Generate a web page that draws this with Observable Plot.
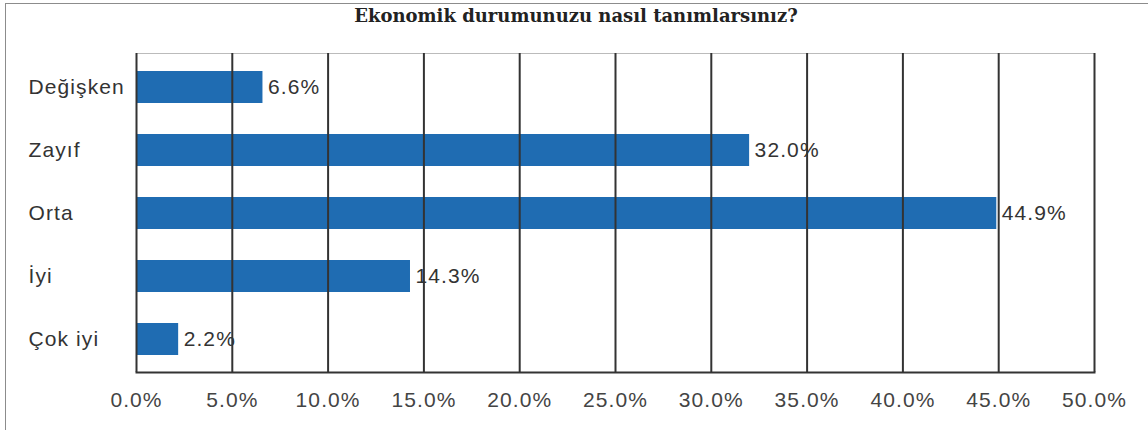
<!DOCTYPE html>
<html>
<head>
<meta charset="utf-8">
<script src="https://cdn.jsdelivr.net/npm/d3@7"></script>
<script src="https://cdn.jsdelivr.net/npm/@observablehq/plot@0.6"></script>
<style>
  html, body { margin: 0; padding: 0; background: #fff; }
  #wrap { position: relative; width: 1148px; height: 430px; overflow: hidden; }
  #border { position: absolute; left: 5px; top: 3px; width: 1300px; height: 600px; border: 1px solid #8c8c8c; box-sizing: border-box; }
  #title { position: absolute; left: 0; width: 1152px; top: 5px; text-align: center;
    font-family: "DejaVu Serif", serif; font-weight: bold; font-size: 18px; color: #222; line-height: 22px; }
  #chart { position: absolute; left: 0; top: 0; }
  #chart svg text { letter-spacing: 1.1px; }
</style>
</head>
<body>
<div id="wrap">
  <div id="border"></div>
  <div id="chart"></div>
  <div id="title">Ekonomik durumunuzu nasıl tanımlarsınız?</div>
</div>
<script>
const categories = ["Değişken", "Zayıf", "Orta", "İyi", "Çok iyi"];
const values = [6.6, 32.0, 44.9, 14.3, 2.2];
const xTicks = [0, 5, 10, 15, 20, 25, 30, 35, 40, 45, 50];

const data = categories.map((c, i) => ({category: c, value: values[i]}));

const chart = Plot.plot({
  width: 1148,
  height: 430,
  marginLeft: 136,
  marginRight: 54,
  marginTop: 53,
  marginBottom: 58,
  style: {fontFamily: "'Liberation Sans', Arial, sans-serif", fontSize: "21px", color: "#444", background: "transparent"},
  x: {domain: [0, 50], ticks: xTicks, tickFormat: d => d.toFixed(1) + "%", label: null},
  y: {domain: categories, paddingInner: 0.5, paddingOuter: 0.25, label: null},
  marks: [
    Plot.frame({anchor: "top", stroke: "#bbb", strokeWidth: 1}),
    Plot.barX(data, {x: "value", y: "category", fill: "#1f6cb2"}),
    Plot.ruleX(xTicks, {stroke: "#333", strokeWidth: 2}),
    Plot.frame({anchor: "bottom", stroke: "#333", strokeWidth: 2}),
    Plot.text(data, {x: "value", y: "category", text: d => d.value.toFixed(1) + "%", dx: 5, textAnchor: "start", fill: "#333", fontSize: 21}),
    Plot.axisX({ticks: xTicks, tickFormat: d => d.toFixed(1) + "%", tickSize: 0, tickPadding: 20, fontSize: 21, fill: "#444", label: null}),
    Plot.axisY({tickSize: 0, tickPadding: 108, textAnchor: "start", fontSize: 21, fill: "#333", label: null})
  ]
});
document.getElementById("chart").appendChild(chart);
</script>
</body>
</html>
